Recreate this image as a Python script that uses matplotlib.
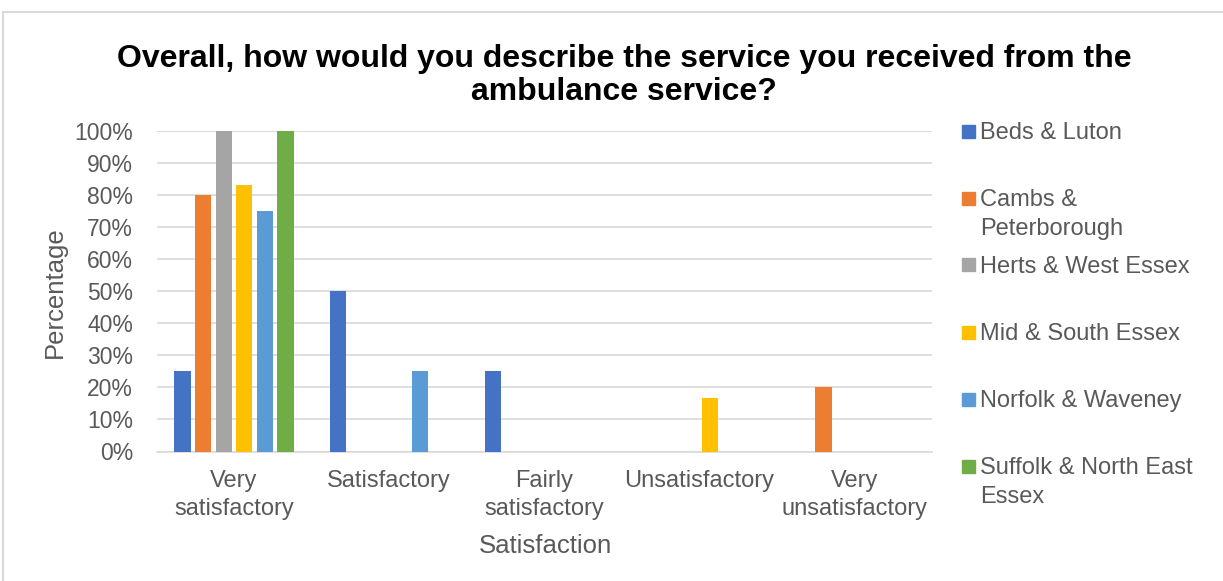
import matplotlib
matplotlib.use("Agg")
import matplotlib.pyplot as plt
from matplotlib.patches import Rectangle
import numpy as np

plt.rcParams['font.family'] = ['Liberation Sans', 'DejaVu Sans']

categories = ["Very\nsatisfactory", "Satisfactory", "Fairly\nsatisfactory",
              "Unsatisfactory", "Very\nunsatisfactory"]
series_names = ["Beds & Luton", "Cambs &\nPeterborough", "Herts & West Essex",
                "Mid & South Essex", "Norfolk & Waveney",
                "Suffolk & North East\nEssex"]
beds_luton = [25, 50, 25, 0, 0]
cambs_peterborough = [80, 0, 0, 0, 20]
herts_west_essex = [100, 0, 0, 0, 0]
mid_south_essex = [83.3, 0, 0, 16.7, 0]
norfolk_waveney = [75, 25, 0, 0, 0]
suffolk_ne_essex = [100, 0, 0, 0, 0]
series_values = [beds_luton, cambs_peterborough, herts_west_essex,
                 mid_south_essex, norfolk_waveney, suffolk_ne_essex]
colors = ["#4472C4", "#ED7D31", "#A5A5A5", "#FFC000", "#5B9BD5", "#70AD47"]
ytick_labels = [f"{v}%" for v in range(0, 101, 10)]

W, H = 1223, 581
fig = plt.figure(figsize=(W / 100, H / 100), dpi=100)
ax = fig.add_axes([156.5 / W, 1 - 451.5 / H, (932 - 156.5) / W, (451.5 - 131) / H])

text_col = "#595959"
grid_col = "#D9D9D9"

x = np.arange(len(categories))
step = 0.1328
width = 0.105
n = len(series_values)
for i, (vals, c) in enumerate(zip(series_values, colors)):
    ax.bar(x + (i - (n - 1) / 2) * step, np.array(vals) / 100.0, width=width,
           color=c, linewidth=0, zorder=3)

ax.set_xlim(-0.5, len(categories) - 0.5)
ax.set_ylim(0, 1)
ax.set_yticks(np.linspace(0, 1, 11))
ax.set_yticklabels(ytick_labels, fontsize=16.5)
ax.set_xticks(x)
ax.set_xticklabels(categories, linespacing=1.36, fontsize=17)
ax.tick_params(axis='both', length=0, colors=text_col)
ax.tick_params(axis='y', pad=17)
ax.tick_params(axis='x', pad=13)
ax.grid(axis='y', color=grid_col, linewidth=1.2, zorder=0)
for s in ['top', 'right', 'left']:
    ax.spines[s].set_visible(False)
ax.spines['bottom'].set_color(grid_col)
ax.spines['bottom'].set_linewidth(1.2)

fig.text(55 / W, 1 - 292 / H, "Percentage", rotation=90, ha='center', va='center',
         fontsize=18.5, color=text_col)
fig.text(545 / W, 1 - 546 / H, "Satisfaction", ha='center', va='center',
         fontsize=18.5, color=text_col)

fig.text(624 / W, 1 - 75.5 / H,
         "Overall, how would you describe the service you received from the\nambulance service?",
         ha='center', va='center', fontsize=23, fontweight='bold', color='black',
         linespacing=1.17)

# legend
for i, (name, c) in enumerate(zip(series_names, colors)):
    yc = 131 + 67 * i
    fig.patches.append(Rectangle((962 / W, 1 - (yc + 6.5) / H), 13 / W, 13 / H,
                                 transform=fig.transFigure, color=c))
    fig.text(980 / W, 1 - (yc - 9) / H, name, ha='left', va='top',
             fontsize=17, color=text_col, linespacing=1.4)

# chart border
fig.patches.append(Rectangle((3 / W, -0.1), 1.2, 1 - 12 / H + 0.1,
                             transform=fig.transFigure, fill=False,
                             edgecolor=grid_col, linewidth=1.5))

fig.savefig("out.png", dpi=100)
